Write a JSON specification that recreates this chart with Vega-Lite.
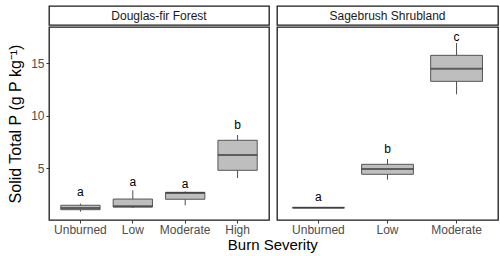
{
  "$schema": "https://vega.github.io/schema/vega-lite/v6.json",
  "padding": {"left": 7, "top": 5, "right": 5, "bottom": 5},
  "config": {
    "font": "Liberation Sans",
    "view": {"stroke": "#1a1a1a", "strokeWidth": 1.3, "fill": "white"},
    "axis": {"grid": false, "domain": false, "labelFont": "Liberation Sans", "titleFont": "Liberation Sans"}
  },
  "datasets": {
    "df": [
      {"severity": "Unburned", "lo": 0.88, "q1": 1.07, "med": 1.23, "q3": 1.49, "hi": 1.64, "lab": "a", "laby": 2.72},
      {"severity": "Low", "lo": 1.23, "q1": 1.32, "med": 1.39, "q3": 2.08, "hi": 2.91, "lab": "a", "laby": 3.70},
      {"severity": "Moderate", "lo": 1.49, "q1": 2.06, "med": 2.65, "q3": 2.72, "hi": 2.80, "lab": "a", "laby": 3.50},
      {"severity": "High", "lo": 4.08, "q1": 4.81, "med": 6.26, "q3": 7.66, "hi": 8.16, "lab": "b", "laby": 9.14}
    ],
    "sb": [
      {"severity": "Unburned", "lo": 1.26, "q1": 1.26, "med": 1.26, "q3": 1.26, "hi": 1.26, "lab": "a", "laby": 2.27},
      {"severity": "Low", "lo": 3.92, "q1": 4.43, "med": 4.93, "q3": 5.38, "hi": 5.88, "lab": "b", "laby": 6.86},
      {"severity": "Moderate", "lo": 12.03, "q1": 13.26, "med": 14.46, "q3": 15.73, "hi": 16.9, "lab": "c", "laby": 17.5}
    ]
  },
  "title": {"text": "Burn Severity", "orient": "bottom", "anchor": "middle", "fontSize": 15, "fontWeight": "normal", "color": "black", "offset": 2, "frame": "bounds", "dx": 20},
  "spacing": 6,
  "hconcat": [
    {
      "spacing": 0,
      "vconcat": [
        {
          "width": 220, "height": 19,
          "data": {"values": [{"label": "Douglas-fir Forest"}]},
          "mark": {"type": "text", "fontSize": 12, "color": "#1a1a1a", "baseline": "middle"},
          "encoding": {
            "x": {"datum": 0.5, "type": "quantitative", "scale": {"domain": [0, 1]}, "axis": null},
            "y": {"datum": 0.5, "type": "quantitative", "scale": {"domain": [0, 1]}, "axis": null},
            "text": {"field": "label"}
          }
        },
        {
          "width": 220, "height": 193,
          "data": {"name": "df"},
          "encoding": {
            "x": {"field": "severity", "type": "nominal", "sort": ["Unburned", "Low", "Moderate", "High"],
                  "scale": {"paddingInner": 0.25, "paddingOuter": 0.225},
                  "axis": {"title": null, "labelAngle": 0, "labelFontSize": 12, "labelColor": "#4d4d4d", "tickColor": "#333333", "tickSize": 3, "labelPadding": 1}}
          },
          "layer": [
            {
              "mark": {"type": "rule", "color": "#4d4d4d", "strokeWidth": 1},
              "encoding": {
                "y": {"field": "lo", "type": "quantitative", "scale": {"domain": [0.09, 18.42], "nice": false, "zero": false},
                      "axis": {"title": "Solid Total P (g P kg⁻¹)", "values": [5, 10, 15], "labelFontSize": 12, "labelColor": "#4d4d4d", "tickColor": "#333333", "tickSize": 3, "labelPadding": 2, "titleFontSize": 16, "titleFontWeight": "normal", "titleColor": "black", "titlePadding": 7}},
                "y2": {"field": "hi"}
              }
            },
            {
              "mark": {"type": "bar", "fill": "#bebebe", "stroke": "#555555", "strokeWidth": 1},
              "encoding": {"y": {"field": "q1", "type": "quantitative"}, "y2": {"field": "q3"}}
            },
            {
              "mark": {"type": "tick", "color": "#333333", "thickness": 2, "size": 39},
              "encoding": {"y": {"field": "med", "type": "quantitative"}}
            },
            {
              "mark": {"type": "text", "fontSize": 12, "color": "black", "baseline": "middle"},
              "encoding": {"y": {"field": "laby", "type": "quantitative"}, "text": {"field": "lab"}}
            }
          ]
        }
      ]
    },
    {
      "spacing": 0,
      "vconcat": [
        {
          "width": 221, "height": 19,
          "data": {"values": [{"label": "Sagebrush Shrubland"}]},
          "mark": {"type": "text", "fontSize": 12, "color": "#1a1a1a", "baseline": "middle"},
          "encoding": {
            "x": {"datum": 0.5, "type": "quantitative", "scale": {"domain": [0, 1]}, "axis": null},
            "y": {"datum": 0.5, "type": "quantitative", "scale": {"domain": [0, 1]}, "axis": null},
            "text": {"field": "label"}
          }
        },
        {
          "width": 221, "height": 193,
          "data": {"name": "sb"},
          "encoding": {
            "x": {"field": "severity", "type": "nominal", "sort": ["Unburned", "Low", "Moderate"],
                  "scale": {"paddingInner": 0.25, "paddingOuter": 0.225},
                  "axis": {"title": null, "labelAngle": 0, "labelFontSize": 12, "labelColor": "#4d4d4d", "tickColor": "#333333", "tickSize": 3, "labelPadding": 1}}
          },
          "layer": [
            {
              "mark": {"type": "rule", "color": "#4d4d4d", "strokeWidth": 1},
              "encoding": {
                "y": {"field": "lo", "type": "quantitative", "scale": {"domain": [0.09, 18.42], "nice": false, "zero": false}, "axis": null},
                "y2": {"field": "hi"}
              }
            },
            {
              "mark": {"type": "bar", "fill": "#bebebe", "stroke": "#555555", "strokeWidth": 1},
              "encoding": {"y": {"field": "q1", "type": "quantitative"}, "y2": {"field": "q3"}}
            },
            {
              "mark": {"type": "tick", "color": "#333333", "thickness": 2, "size": 52},
              "encoding": {"y": {"field": "med", "type": "quantitative"}}
            },
            {
              "mark": {"type": "text", "fontSize": 12, "color": "black", "baseline": "middle"},
              "encoding": {"y": {"field": "laby", "type": "quantitative"}, "text": {"field": "lab"}}
            }
          ]
        }
      ]
    }
  ]
}
